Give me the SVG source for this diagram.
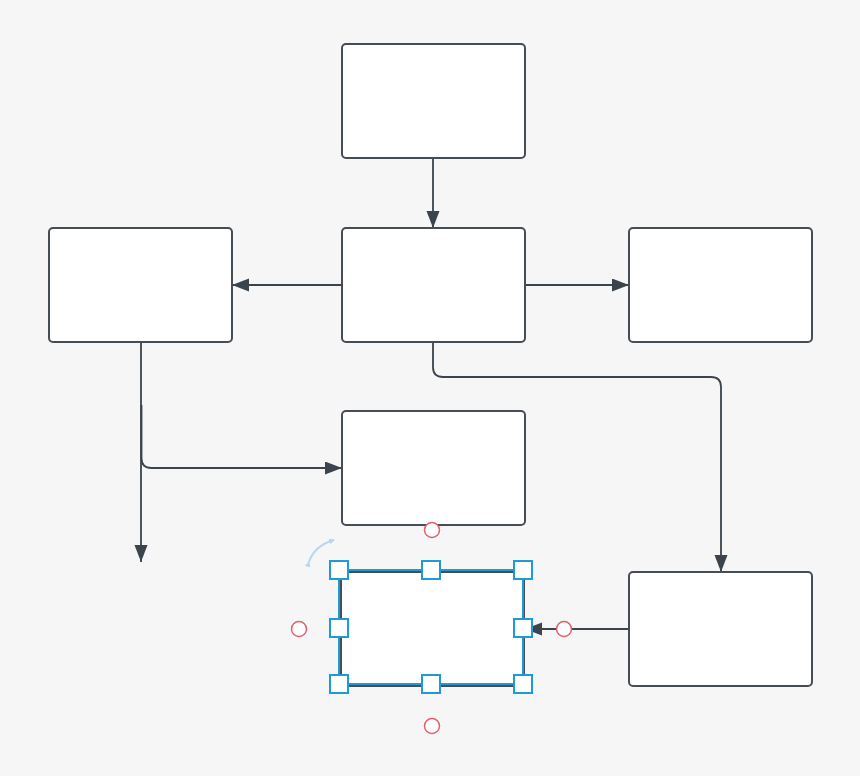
<svg xmlns="http://www.w3.org/2000/svg" width="860" height="776" viewBox="0 0 860 776">
<defs>
<style>
.box{fill:#ffffff;stroke:#474d55;stroke-width:2}
.con{fill:none;stroke:#3b434c;stroke-width:1.8}
.h{fill:#ffffff;stroke:#1f9ad6;stroke-width:2}
.rc{fill:#ffffff;stroke:#e0606e;stroke-width:1.5}
</style>
<marker id="ah" markerUnits="userSpaceOnUse" markerWidth="18" markerHeight="14" refX="17" refY="6.5" orient="auto">
<path d="M0,0 L17,6.5 L0,13 Z" fill="#3b434c"/>
</marker>
<marker id="rot" markerUnits="userSpaceOnUse" markerWidth="8" markerHeight="8" refX="5" refY="3" orient="auto">
<path d="M0,0 L6,3 L0,6 Z" fill="#b9d6ef"/>
</marker>
</defs>
<rect width="860" height="776" fill="#f6f6f6"/>
<g id="connectors">
<path class="con" d="M433,158 V228" marker-end="url(#ah)"/>
<path class="con" d="M342,285 H232" marker-end="url(#ah)"/>
<path class="con" d="M525,285 H629" marker-end="url(#ah)"/>
<path class="con" d="M433,342 V367 Q433,377 443,377 H711 Q721,377 721,387 V572" marker-end="url(#ah)"/>
<path class="con" d="M141,342 V562" marker-end="url(#ah)"/>
<path class="con" d="M141.5,405 V458 Q141.5,468 151.5,468 H342" marker-end="url(#ah)"/>
<path class="con" d="M629,629 H525" marker-end="url(#ah)"/>
</g>
<g id="top"><rect class="box" x="342" y="44" width="183" height="114" rx="4"/></g>
<g id="center"><rect class="box" x="342" y="228" width="183" height="114" rx="4"/></g>
<g id="left"><rect class="box" x="49" y="228" width="183" height="114" rx="4"/></g>
<g id="right"><rect class="box" x="629" y="228" width="183" height="114" rx="4"/></g>
<g id="middle"><rect class="box" x="342" y="411" width="183" height="114" rx="4"/></g>
<g id="bottomright"><rect class="box" x="629" y="572" width="183" height="114" rx="4"/></g>
<g id="selected">
<rect class="box" x="341" y="572" width="183" height="114" rx="3" stroke-width="2.5"/>
<rect x="339" y="570" width="184" height="114" fill="none" stroke="#1f9ad6" stroke-width="2"/>
<rect class="h" x="330" y="561" width="18" height="18"/>
<rect class="h" x="422" y="561" width="18" height="18"/>
<rect class="h" x="514" y="561" width="18" height="18"/>
<rect class="h" x="330" y="619" width="18" height="18"/>
<rect class="h" x="514" y="619" width="18" height="18"/>
<rect class="h" x="330" y="675" width="18" height="18"/>
<rect class="h" x="422" y="675" width="18" height="18"/>
<rect class="h" x="514" y="675" width="18" height="18"/>
<path d="M309,562 Q314,546 334,540" fill="none" stroke="#b9d6ef" stroke-width="2" marker-end="url(#rot)" marker-start="url(#rot)"/>
<circle class="rc" cx="432" cy="530" r="7.5"/>
<circle class="rc" cx="299" cy="629" r="7.5"/>
<circle class="rc" cx="564" cy="629" r="7.5"/>
<circle class="rc" cx="432" cy="726" r="7.5"/>
</g>
</svg>
